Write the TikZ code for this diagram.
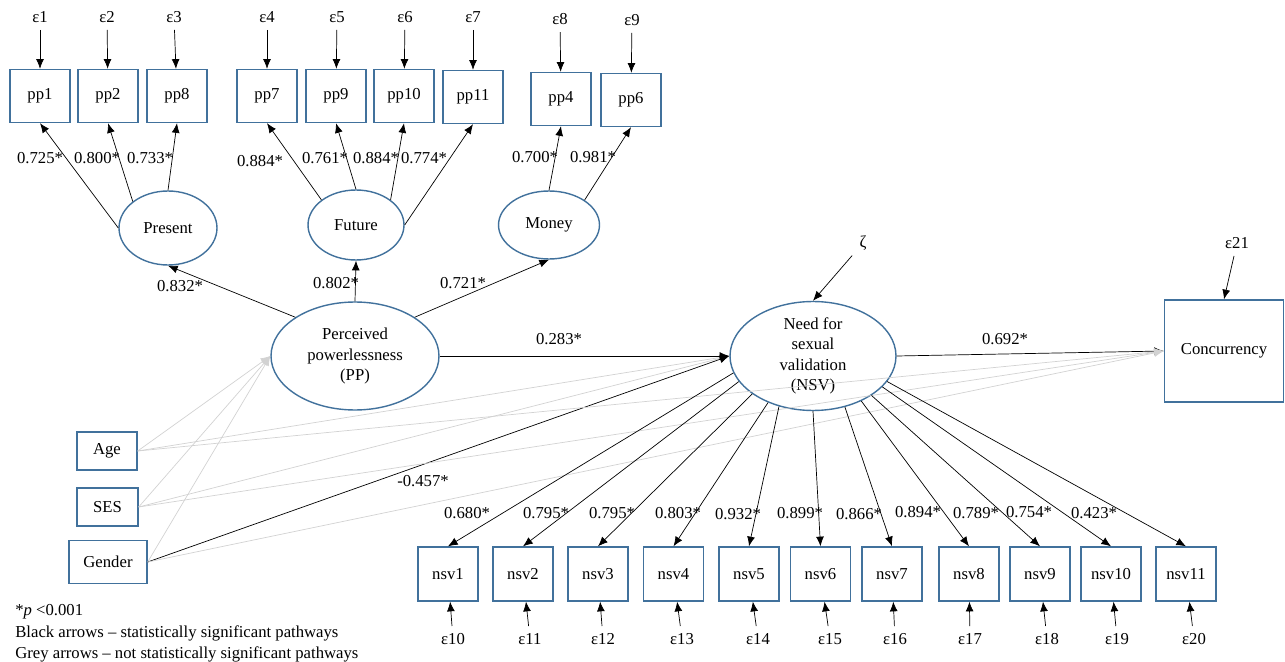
\documentclass[tikz,border=0pt]{standalone}
\usepackage{fontspec}
\setmainfont{Liberation Serif}
\usetikzlibrary{arrows.meta,shapes.geometric}
\definecolor{boxblue}{RGB}{65,113,156}
\definecolor{greyarrow}{RGB}{210,210,210}

\begin{document}
\begin{tikzpicture}[x=0.02cm, y=-0.02cm, font=\fontsize{9.5}{11.6}\selectfont,
	obs/.style={draw=boxblue, line width=0.8pt, rectangle, minimum width=1.2cm, minimum height=1.06cm, inner sep=0pt},
	lat/.style={draw=boxblue, line width=0.8pt, ellipse, inner sep=0pt, align=center},
	err/.style={inner sep=4pt},
	coef/.style={inner sep=0pt},
	sig/.style={-{Latex[length=5.5pt,width=4.5pt]}, line width=0.4pt},
	nsig/.style={draw=greyarrow, -{Latex[length=5.5pt,width=4.5pt]}, line width=0.4pt}]
				\useasboundingbox (0, 0) rectangle (1285, 662);
				% Indicators of perceived powerlessness:
				\node[obs](pp1) at (40, 96){pp1};
				\node[obs](pp2) at (108, 96){pp2};
				\node[obs](pp8) at (177, 96){pp8};
				\node[obs](pp7) at (267, 96){pp7};
				\node[obs](pp9) at (336, 96){pp9};
				\node[obs](pp10) at (404, 96){pp10};
				\node[obs](pp11) at (473, 97){pp11};
				\node[obs](pp4) at (561, 99){pp4};
				\node[obs](pp6) at (631, 100){pp6};
				\node[err](e1) at (40, 17){ε1};
				\node[err](e2) at (107, 17){ε2};
				\node[err](e3) at (174, 17){ε3};
				\node[err](e4) at (267, 17){ε4};
				\node[err](e5) at (337, 17){ε5};
				\node[err](e6) at (405, 17){ε6};
				\node[err](e7) at (473, 17){ε7};
				\node[err](e8) at (560, 19){ε8};
				\node[err](e9) at (632, 20){ε9};
				\draw[sig] (e1) -- (pp1);
				\draw[sig] (e2) -- (pp2);
				\draw[sig] (e3) -- (pp8);
				\draw[sig] (e4) -- (pp7);
				\draw[sig] (e5) -- (pp9);
				\draw[sig] (e6) -- (pp10);
				\draw[sig] (e7) -- (pp11);
				\draw[sig] (e8) -- (pp4);
				\draw[sig] (e9) -- (pp6);
				% Latent variables:
				\node[lat, minimum width=1.96cm, minimum height=1.48cm](present) at (168, 228){Present};
				\node[lat, minimum width=1.92cm, minimum height=1.4cm](future) at (356, 225){Future};
				\node[lat, minimum width=2.02cm, minimum height=1.36cm](money) at (549, 225){Money};
				\node[lat, minimum width=3.36cm, minimum height=2.16cm](pp) at (355, 356){Perceived\\powerlessness\\(PP)};
				\node[lat, minimum width=3.32cm, minimum height=2.18cm](nsv) at (813, 356){Need for\\sexual\\validation\\(NSV)};
				\node[obs, minimum width=2.38cm, minimum height=2.04cm](conc) at (1224, 351){Concurrency};
				\node[err](zeta) at (863, 243){ζ};
				\node[err](e21) at (1237, 243){ε21};
				\draw[sig] (zeta) -- (nsv.north);
				\draw[sig] (e21) -- (conc.north);
				% Loadings of the first order factors:
				\draw[sig] (present.180) -- (pp1.south);
				\draw[sig] (present.143) -- (pp2.south);
				\draw[sig] (present.90) -- (pp8.south);
				\draw[sig] (future.144) -- (pp7.south);
				\draw[sig] (future.90) -- (pp9.south);
				\draw[sig] (future.36) -- (pp10.south);
				\draw[sig] (future.0) -- (pp11.south);
				\draw[sig] (money.90) -- (pp4.south);
				\draw[sig] (money.35) -- (pp6.south);
				\node[coef](c1) at (40, 158){0.725*};
				\node[coef](c2) at (97, 158){0.800*};
				\node[coef](c3) at (150, 158){0.733*};
				\node[coef](c4) at (260, 161){0.884*};
				\node[coef](c5) at (325, 158){0.761*};
				\node[coef](c6) at (376, 158){0.884*};
				\node[coef](c7) at (424, 158){0.774*};
				\node[coef](c8) at (535, 157){0.700*};
				\node[coef](c9) at (593, 157){0.981*};
				% Second order factor:
				\draw[sig] (pp.147) -- (present.south);
				\draw[sig] (pp.north) -- (future.south);
				\draw[sig] (pp.33) -- (money.south);
				\node[coef](c10) at (180, 286){0.832*};
				\node[coef](c11) at (336, 283){0.802*};
				\node[coef](c12) at (463, 283){0.721*};
				% Covariates:
				\node[obs, minimum width=1.2cm, minimum height=0.76cm](age) at (107, 451){Age};
				\node[obs, minimum width=1.22cm, minimum height=0.76cm](ses) at (107.5, 507){SES};
				\node[obs, minimum width=1.56cm, minimum height=0.86cm](gender) at (108, 562){Gender};
				\draw[nsig] (age.east) -- (pp.west);
				\draw[nsig] (ses.east) -- (pp.west);
				\draw[nsig] (gender.east) -- (pp.west);
				\draw[nsig] (age.east) -- (nsv.west);
				\draw[nsig] (ses.east) -- (nsv.west);
				% Structural paths:
				\draw[sig] (pp.east) -- (nsv.west);
				\draw[sig] (gender.east) -- (nsv.west);
				\draw[sig] (nsv.east) -- (conc.west);
				\node[coef](c13) at (559, 339){0.283*};
				\node[coef](c14) at (423, 481){-0.457*};
				\node[coef](c15) at (1005, 339){0.692*};
				\draw[nsig] (age.east) -- (conc.west);
				\draw[nsig] (ses.east) -- (conc.west);
				\draw[nsig] (gender.east) -- (conc.west);
				% Indicators of need for sexual validation:
				\node[obs, minimum height=1.08cm](nsv1) at (448, 574){nsv1};
				\node[obs, minimum height=1.08cm](nsv2) at (523, 574){nsv2};
				\node[obs, minimum height=1.08cm](nsv3) at (598, 574){nsv3};
				\node[obs, minimum height=1.08cm](nsv4) at (673.5, 574){nsv4};
				\node[obs, minimum height=1.08cm](nsv5) at (749, 574){nsv5};
				\node[obs, minimum height=1.08cm](nsv6) at (820.5, 574){nsv6};
				\node[obs, minimum height=1.08cm](nsv7) at (892, 574){nsv7};
				\node[obs, minimum height=1.08cm](nsv8) at (969, 574){nsv8};
				\node[obs, minimum height=1.08cm](nsv9) at (1040, 574){nsv9};
				\node[obs, minimum height=1.08cm](nsv10) at (1111, 574){nsv10};
				\node[obs, minimum height=1.08cm](nsv11) at (1186, 574){nsv11};
				\draw[sig] (nsv.192) -- (nsv1.north);
				\draw[sig] (nsv.199) -- (nsv2.north);
				\draw[sig] (nsv.212) -- (nsv3.north);
				\draw[sig] (nsv.226) -- (nsv4.north);
				\draw[sig] (nsv.236) -- (nsv5.north);
				\draw[sig] (nsv.270) -- (nsv6.north);
				\draw[sig] (nsv.302) -- (nsv7.north);
				\draw[sig] (nsv.317) -- (nsv8.north);
				\draw[sig] (nsv.326) -- (nsv9.north);
				\draw[sig] (nsv.336) -- (nsv10.north);
				\draw[sig] (nsv.341) -- (nsv11.north);
				\node[coef](c16) at (467, 513){0.680*};
				\node[coef](c17) at (546, 513){0.795*};
				\node[coef](c18) at (612, 513){0.795*};
				\node[coef](c19) at (678, 513){0.803*};
				\node[coef](c20) at (738, 514){0.932*};
				\node[coef](c21) at (800, 513){0.899*};
				\node[coef](c22) at (859, 514){0.866*};
				\node[coef](c23) at (918, 512){0.894*};
				\node[coef](c24) at (976, 513){0.789*};
				\node[coef](c25) at (1029, 512){0.754*};
				\node[coef](c26) at (1094, 513){0.423*};
				\node[err](e10) at (453, 639){ε10};
				\node[err](e11) at (530, 639){ε11};
				\node[err](e12) at (603, 639){ε12};
				\node[err](e13) at (682, 639){ε13};
				\node[err](e14) at (758, 639){ε14};
				\node[err](e15) at (830, 639){ε15};
				\node[err](e16) at (895, 639){ε16};
				\node[err](e17) at (970, 639){ε17};
				\node[err](e18) at (1047, 639){ε18};
				\node[err](e19) at (1117, 639){ε19};
				\node[err](e20) at (1194, 639){ε20};
				\draw[sig] (e10) -- (nsv1);
				\draw[sig] (e11) -- (nsv2);
				\draw[sig] (e12) -- (nsv3);
				\draw[sig] (e13) -- (nsv4);
				\draw[sig] (e14) -- (nsv5);
				\draw[sig] (e15) -- (nsv6);
				\draw[sig] (e16) -- (nsv7);
				\draw[sig] (e17) -- (nsv8);
				\draw[sig] (e18) -- (nsv9);
				\draw[sig] (e19) -- (nsv10);
				\draw[sig] (e20) -- (nsv11);
				% Note:
				\node[coef, anchor=west](note1) at (15, 612){*\textit{p} <0.001};
				\node[coef, anchor=west](note2) at (15, 633){Black arrows – statistically significant pathways};
				\node[coef, anchor=west](note3) at (15, 654){Grey arrows – not statistically significant pathways};
			\end{tikzpicture}
\end{document}
